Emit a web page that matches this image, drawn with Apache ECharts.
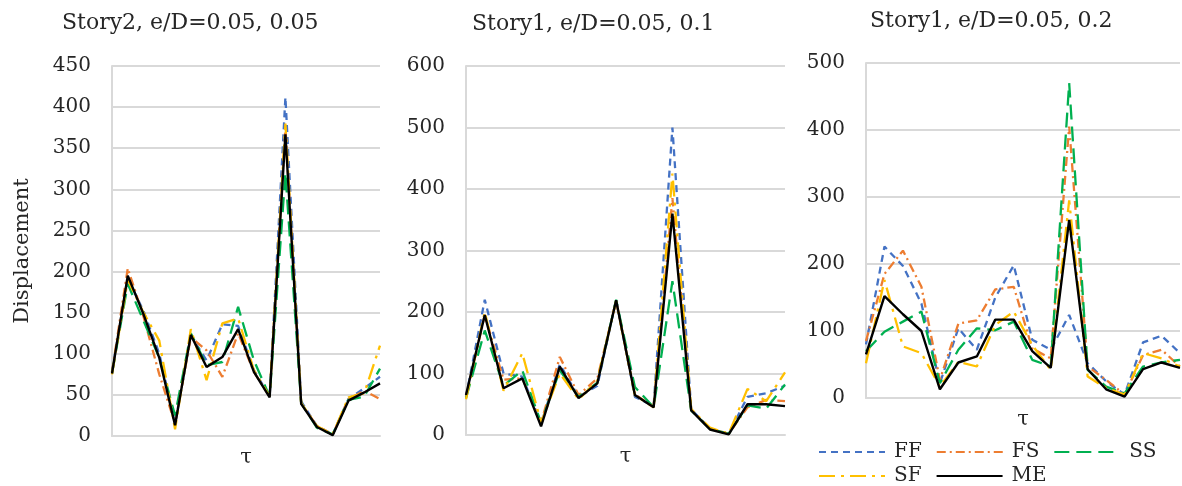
<!DOCTYPE html>
<html>
<head>
<meta charset="utf-8">
<script src="https://cdn.jsdelivr.net/npm/echarts@6/dist/echarts.min.js"></script>
<style>
html,body{margin:0;padding:0;background:#fff;}
#c{width:1182px;height:486px;}
</style>
</head>
<body>
<div id="c"></div>
<script>
const categories = ['1','2','3','4','5','6','7','8','9','10','11','12','13','14','15','16','17','18'];
const seriesNames = ['FF','FS','SS','SF','ME'];
const panelTitles = ['Story2, e/D=0.05, 0.05','Story1, e/D=0.05, 0.1','Story1, e/D=0.05, 0.2'];
const yMax = [450, 600, 500];
const yStep = [50, 100, 100];

// Panel 1: Story2, e/D=0.05, 0.05
const p1FF = [78,192,152,100,15,122,92,136,134,80,48,412,42,12,2,45,58,72];
const p1FS = [78,204,145,75,15,120,104,72,125,78,48,375,40,12,2,45,55,45];
const p1SS = [76,185,140,95,25,125,86,90,157,92,48,320,40,10,2,44,48,82];
const p1SF = [75,190,150,116,8,130,68,137,143,80,48,380,40,12,2,47,52,110];
const p1ME = [76,195,148,95,13,123,84,96,130,78,47,367,39,11,1,43,53,64];

// Panel 2: Story1, e/D=0.05, 0.1
const p2FF = [62,220,100,95,18,115,62,80,220,62,47,500,42,10,2,62,68,80];
const p2FS = [62,195,90,92,20,127,65,92,218,66,46,385,42,10,2,45,57,55];
const p2SS = [60,170,80,105,20,105,62,85,220,78,45,250,40,10,2,48,43,82];
const p2SF = [58,200,72,133,20,100,58,88,218,65,45,425,42,12,2,75,55,102];
const p2ME = [65,195,76,92,14,111,60,84,219,65,45,360,40,9,1,50,50,47];

// Panel 3: Story1, e/D=0.05, 0.2
const p3FF = [80,226,197,141,22,104,72,150,198,87,72,124,52,25,5,83,93,67];
const p3FS = [85,185,220,166,27,111,116,162,166,74,59,405,47,27,5,64,72,47];
const p3SS = [70,99,114,129,22,72,104,101,114,57,47,470,42,17,7,47,53,57];
const p3SF = [52,176,77,67,17,54,47,109,129,79,42,295,32,15,5,67,59,47];
const p3ME = [65,152,125,100,13,53,62,117,117,70,45,266,43,13,2,43,53,45];

const panelData = [
  [p1FF,p1FS,p1SS,p1SF,p1ME],
  [p2FF,p2FS,p2SS,p2SF,p2ME],
  [p3FF,p3FS,p3SS,p3SF,p3ME]
];

const styles = {
  FF:{color:'#4472C4', type:[7,5], width:2.3},
  FS:{color:'#ED7D31', type:[9,4,2,4], width:2.3},
  SS:{color:'#00B050', type:[15,7], width:2.3},
  SF:{color:'#FFC000', type:[16,6,3,6], width:2.3},
  ME:{color:'#000000', type:'solid', width:2.4}
};

const FONT = 'DejaVu Serif';
const TXT = '#262626';
const GRID_C = '#d9d9d9';

const grids = [
  {left:112, top:66, width:268, height:370},
  {left:466, top:66, width:319, height:369},
  {left:866, top:63, width:314, height:335}
];
const titlePos = [{left:62, top:12},{left:472, top:13},{left:870, top:10}];

const option = {
  animation:false,
  backgroundColor:'#fff',
  title: panelTitles.map((t,i)=>({
    text:t, left:titlePos[i].left, top:titlePos[i].top, padding:0,
    textStyle:{fontFamily:FONT, fontSize:22, fontWeight:'normal', color:TXT}
  })),
  grid: grids.map(g=>Object.assign({containLabel:false}, g)),
  xAxis: grids.map((g,i)=>({
    type:'category', gridIndex:i, data:categories, boundaryGap:false,
    name:'τ', nameLocation:'middle', nameGap:11,
    nameTextStyle:{fontFamily:FONT, fontSize:21, color:TXT},
    axisLine:{show:true, lineStyle:{color:GRID_C, width:2}},
    axisTick:{show:false}, axisLabel:{show:false}, splitLine:{show:false}
  })),
  yAxis: grids.map((g,i)=>({
    type:'value', gridIndex:i, min:0, max:yMax[i], interval:yStep[i],
    name: i===0 ? 'Displacement' : '',
    nameLocation:'middle', nameGap:79,
    nameTextStyle:{fontFamily:FONT, fontSize:21, color:TXT},
    axisLine:{show:true, lineStyle:{color:GRID_C, width:2}},
    axisTick:{show:false},
    axisLabel:{fontFamily:FONT, fontSize:20, color:TXT, margin:21},
    splitLine:{show:true, lineStyle:{color:GRID_C, width:2}}
  })),
  legend: [
    {data:['FF','FS','SS'], left:818, top:442},
    {data:['SF','ME'], left:818, top:466}
  ].map(l=>Object.assign(l,{
    orient:'horizontal', padding:0, itemWidth:66, itemHeight:14, itemGap:14,
    itemStyle:{opacity:0},
    textStyle:{fontFamily:FONT, fontSize:20, color:TXT, width:42, padding:[0,0,0,4]}
  })),
  series: []
};

panelData.forEach((arrs,pi)=>{
  arrs.forEach((vals,si)=>{
    const nm = seriesNames[si];
    const st = styles[nm];
    option.series.push({
      name:nm, type:'line', xAxisIndex:pi, yAxisIndex:pi, data:vals,
      showSymbol:false, symbol:'none', smooth:false, z: nm==='ME'?5:2,
      lineStyle:{color:st.color, type:st.type, width:st.width},
      itemStyle:{color:st.color}
    });
  });
});

const chart = echarts.init(document.getElementById('c'), null, {renderer:'canvas'});
chart.setOption(option);
</script>
</body>
</html>
